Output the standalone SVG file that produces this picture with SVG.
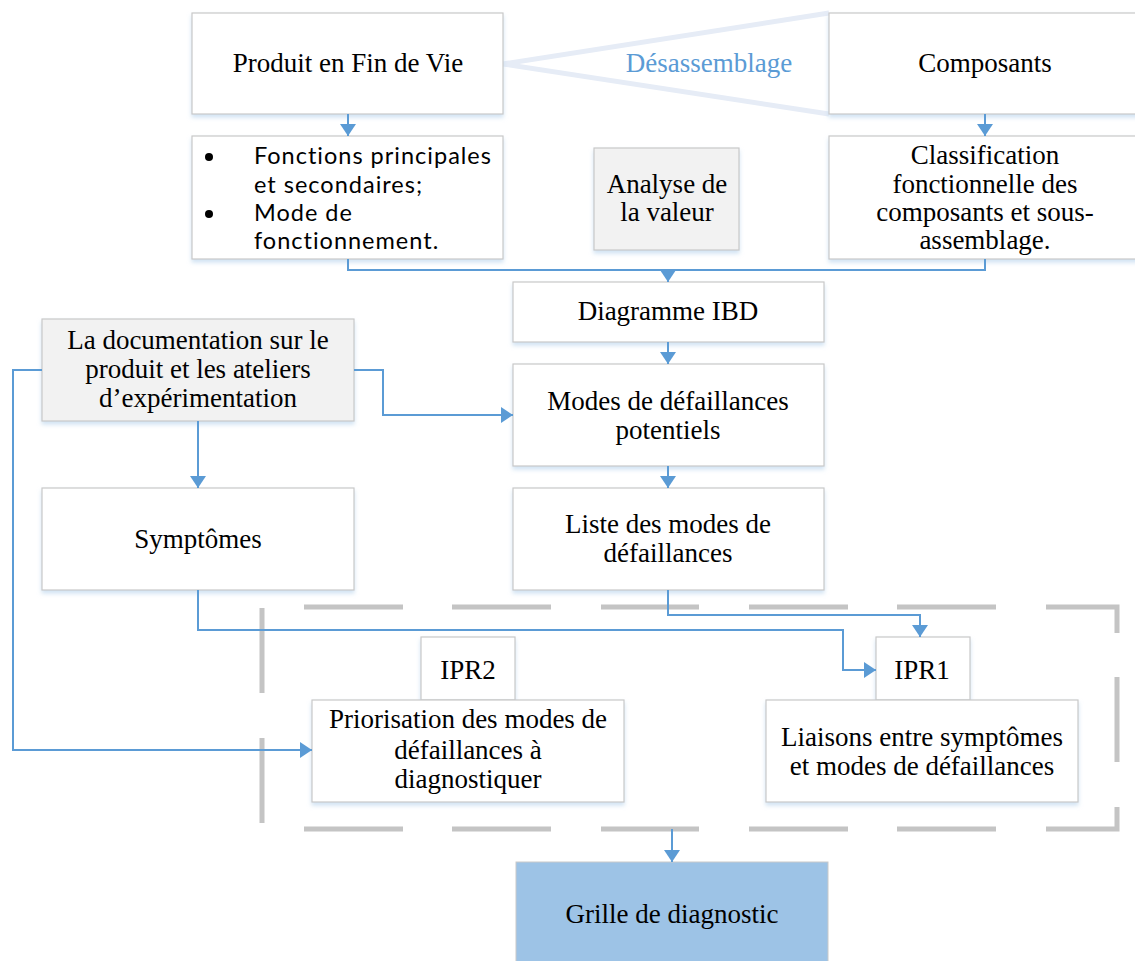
<svg xmlns="http://www.w3.org/2000/svg" width="1135" height="961" viewBox="0 0 1135 961">
<style>
.box{fill:#ffffff;stroke:#c9c9c9;stroke-width:1.2;filter:url(#sh)}
.gray{fill:#f2f2f2}
.t{font-family:"Liberation Serif","Times New Roman",serif;font-size:27px;fill:#000;text-anchor:middle}
.s{font-family:Lato,"Open Sans",sans-serif;font-size:23.5px;letter-spacing:1px;fill:#000}
.c{fill:none;stroke:#5b9bd5;stroke-width:2}
.d{stroke:#c4c4c4;stroke-width:5;fill:none}
</style>
<defs>
<filter id="sh" x="-10%" y="-10%" width="120%" height="130%">
<feDropShadow dx="0" dy="3" stdDeviation="2" flood-color="#bdd7ee" flood-opacity="0.7"/>
</filter>
<marker id="ab" viewBox="0 0 12 16" refX="12" refY="8" markerWidth="12" markerHeight="16" orient="auto" markerUnits="userSpaceOnUse">
<path d="M0,0 L12,8 L0,16 Z" fill="#5b9bd5"/>
</marker>
</defs>

<g id="wedge">
<polyline points="829,13 503,64 829,114" fill="none" stroke="#e6ecf6" stroke-width="5"/>
<text x="709" y="72" class="t" style="fill:#5b9bd5">Désassemblage</text>
</g>

<g id="n-produit"><rect class="box" x="192" y="13" width="311" height="101"/><text class="t" x="348" y="72">Produit en Fin de Vie</text></g>
<g id="n-composants"><rect class="box" x="829" y="13" width="320" height="101"/><text class="t" x="985" y="72">Composants</text></g>

<g id="n-fonctions"><rect class="box" x="192" y="136" width="311" height="123"/>
<circle cx="209" cy="157" r="4" fill="#000"/><circle cx="209" cy="214" r="4" fill="#000"/>
<text class="s" x="254" y="164">Fonctions principales</text>
<text class="s" x="254" y="193">et secondaires;</text>
<text class="s" x="254" y="221">Mode de</text>
<text class="s" x="254" y="249">fonctionnement.</text>
</g>

<g id="n-analyse"><rect class="box gray" x="594" y="148" width="145" height="102"/><text class="t" x="667" y="193">Analyse de</text><text class="t" x="667" y="221">la valeur</text></g>

<g id="n-classification"><rect class="box" x="829" y="136" width="320" height="123"/>
<text class="t" x="985" y="164">Classification</text>
<text class="t" x="985" y="193">fonctionnelle des</text>
<text class="t" x="985" y="221">composants et sous-</text>
<text class="t" x="985" y="249">assemblage.</text>
</g>

<g id="n-ibd"><rect class="box" x="513" y="282" width="311" height="60"/><text class="t" x="668" y="320">Diagramme IBD</text></g>

<g id="n-modes"><rect class="box" x="513" y="364" width="311" height="102"/><text class="t" x="668" y="410">Modes de défaillances</text><text class="t" x="668" y="439">potentiels</text></g>

<g id="n-doc"><rect class="box gray" x="42" y="319" width="312" height="102"/>
<text class="t" x="198" y="349">La documentation sur le</text>
<text class="t" x="198" y="378">produit et les ateliers</text>
<text class="t" x="198" y="407">d’expérimentation</text>
</g>

<g id="n-symptomes"><rect class="box" x="42" y="488" width="312" height="102"/><text class="t" x="198" y="548">Symptômes</text></g>

<g id="n-liste"><rect class="box" x="513" y="488" width="311" height="102"/><text class="t" x="668" y="533">Liste des modes de</text><text class="t" x="668" y="562">défaillances</text></g>

<g id="dashed-frame">
<path class="d" d="M304,607H403 M452,607H551 M601,607H699 M749,607H848 M897,607H996 M1046,607H1117V633 M1117,677V762 M1117,807V829H1046 M996,829H897 M848,829H749 M699,829H601 M551,829H452 M403,829H304 M262,608V693 M262,738V823"/>
</g>

<g id="n-ipr2"><rect class="box" x="421" y="637" width="94" height="63"/><text class="t" x="468" y="679">IPR2</text></g>
<g id="n-priorisation"><rect class="box" x="312" y="700" width="312" height="102"/>
<text class="t" x="468" y="728">Priorisation des modes de</text>
<text class="t" x="468" y="759">défaillances à</text>
<text class="t" x="468" y="788">diagnostiquer</text>
</g>

<g id="n-ipr1"><rect class="box" x="876" y="637" width="94" height="63"/><text class="t" x="922" y="679">IPR1</text></g>
<g id="n-liaisons"><rect class="box" x="766" y="700" width="312" height="102"/>
<text class="t" x="922" y="746">Liaisons entre symptômes</text>
<text class="t" x="922" y="775">et modes de défaillances</text>
</g>

<g id="n-grille"><rect x="516" y="862" width="312" height="110" fill="#9dc3e6" stroke="#c9c9c9" stroke-width="1"/><text class="t" x="672" y="923">Grille de diagnostic</text></g>

<g id="connectors">
<path class="c" d="M348,114V136" marker-end="url(#ab)"/>
<path class="c" d="M985,114V136" marker-end="url(#ab)"/>
<path class="c" d="M348,259V270H985V259"/>
<path class="c" d="M668,270V282" marker-end="url(#ab)"/>
<path class="c" d="M668,342V364" marker-end="url(#ab)"/>
<path class="c" d="M668,466V488" marker-end="url(#ab)"/>
<path class="c" d="M354,370H383V415H513" marker-end="url(#ab)"/>
<path class="c" d="M198,421V488" marker-end="url(#ab)"/>
<path class="c" d="M42,370H13V750H312" marker-end="url(#ab)"/>
<path class="c" d="M668,590V615H920V637" marker-end="url(#ab)"/>
<path class="c" d="M198,590V630H843V670H876" marker-end="url(#ab)"/>
<path class="c" d="M672,829V862" marker-end="url(#ab)"/>
</g>
</svg>
